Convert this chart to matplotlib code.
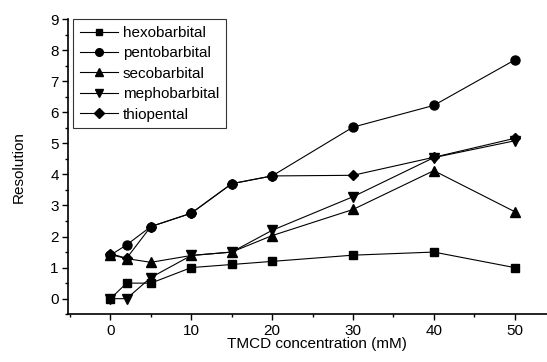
import numpy as np
import matplotlib
matplotlib.use("Agg")
import matplotlib.pyplot as plt
from matplotlib.ticker import MultipleLocator

plt.rcParams['font.family'] = ['Liberation Sans', 'DejaVu Sans']

# TMCD concentration (mM)
conc = [0, 2, 5, 10, 15, 20, 30, 40, 50]

# resolution values
hexobarbital = [0.0, 0.5, 0.5, 1.0, 1.1, 1.2, 1.4, 1.5, 1.0]
pentobarbital = [1.4, 1.73, 2.32, 2.75, 3.7, 3.95, 5.52, 6.22, 7.68]
secobarbital = [1.42, 1.29, 1.17, 1.39, 1.5, 2.03, 2.87, 4.12, 2.8]
mephobarbital = [0.0, 0.0, 0.68, 1.39, 1.5, 2.2, 3.28, 4.54, 5.08]
thiopental = [1.45, 1.3, 2.32, 2.75, 3.7, 3.95, 3.97, 4.55, 5.16]

names = ["hexobarbital", "pentobarbital", "secobarbital", "mephobarbital", "thiopental"]
series = [hexobarbital, pentobarbital, secobarbital, mephobarbital, thiopental]
markers = ["s", "o", "^", "v", "D"]
sizes = [5.5, 6.5, 6.5, 6.5, 5.5]

fig = plt.figure(figsize=(5.47, 3.62), dpi=100)
ax = fig.add_axes([0.125, 0.132, 0.875, 0.8155])

for name, ys, m, s in zip(names, series, markers, sizes):
    ax.plot(conc, ys, color="black", marker=m, markersize=s,
            linewidth=0.8, label=name)

ax.set_xlim(-5.2, 54)
ax.set_ylim(-0.5, 9)
ax.set_xticks([0, 10, 20, 30, 40, 50])
ax.set_yticks(range(0, 10))
ax.xaxis.set_minor_locator(MultipleLocator(5))
ax.yaxis.set_minor_locator(MultipleLocator(0.5))
ax.tick_params(which="major", direction="out", length=4.5, width=1, labelsize=11, pad=2.5)
ax.tick_params(which="minor", direction="out", length=2.5, width=1)

ax.spines["top"].set_visible(False)
ax.spines["right"].set_visible(False)
ax.spines["left"].set_linewidth(1.2)
ax.spines["bottom"].set_linewidth(1.2)

ax.set_xlabel("TMCD concentration (mM)", fontsize=11)
ax.set_ylabel("Resolution", fontsize=11)
# label positions in axes fraction, taken from the reference layout
ax.xaxis.set_label_coords(0.52, -0.078)
ax.yaxis.set_label_coords(-0.09, 0.5)

leg = ax.legend(loc="upper left", bbox_to_anchor=(0.01, 1.0), fontsize=11,
                frameon=True, fancybox=False, edgecolor="black",
                handlelength=2.5, handletextpad=0.3, labelspacing=0.42,
                borderpad=0.45, markerscale=0.85, borderaxespad=0)
leg.get_frame().set_linewidth(0.8)

fig.savefig("out.png", dpi=100)
